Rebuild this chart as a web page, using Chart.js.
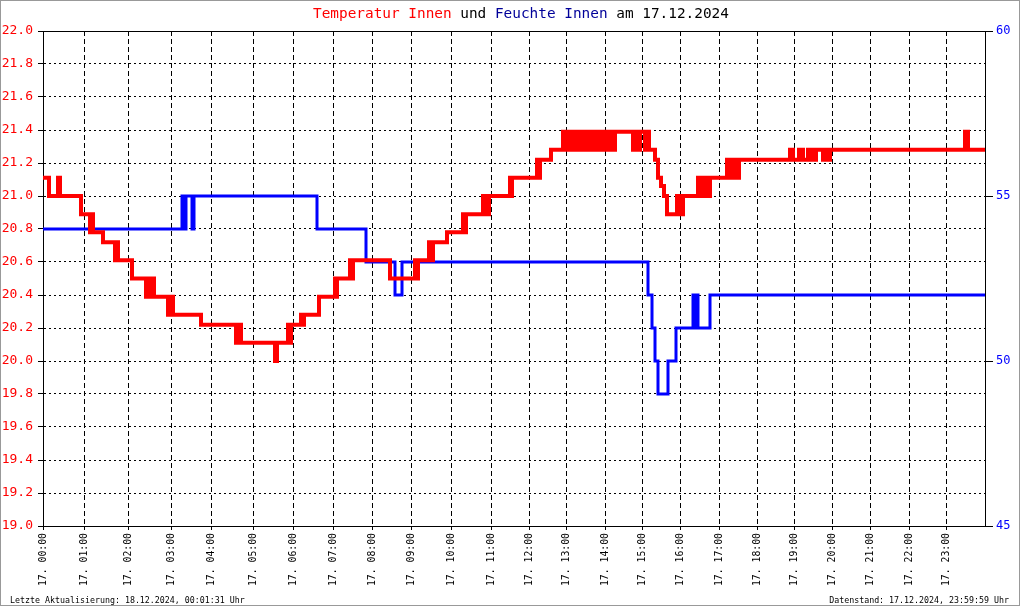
<!DOCTYPE html>
<html>
<head>
<meta charset="utf-8">
<script src="https://cdn.jsdelivr.net/npm/chart.js@4/dist/chart.umd.min.js"></script>
<style>
html, body { margin: 0; padding: 0; background: #fff; }
#wrap { position: relative; width: 1020px; height: 606px; }
#frame { position: absolute; left: 0; top: 0; width: 1020px; height: 606px; box-sizing: border-box; border: 1px solid #999; pointer-events: none; }
.t { position: absolute; font-family: "DejaVu Sans Mono", monospace; white-space: pre; color: #000; }
#title { left: 313px; top: 6px; font-size: 14.4px; line-height: 14.4px; }
.foot { top: 596px; font-size: 8.3px; line-height: 8.3px; }
</style>
</head>
<body>
<div id="wrap">
  <canvas id="myChart" width="1020" height="606" style="width:1020px;height:606px"></canvas>
  <div id="title" class="t"><span style="color:#ff0000">Temperatur Innen</span> und <span style="color:#000099">Feuchte Innen</span> am 17.12.2024</div>
  <div class="t foot" style="left:10px">Letzte Aktualisierung: 18.12.2024, 00:01:31 Uhr</div>
  <div class="t foot" style="right:11px">Datenstand: 17.12.2024, 23:59:59 Uhr</div>
  <div id="frame"></div>
</div>
<script>
// x axis = record number of the day, hours start at these records
var lastIdx = 942;
var hourIdx = [0, 41, 85, 128, 168, 210, 250, 290, 329, 368, 408, 448, 486, 523,
               562, 599, 637, 676, 714, 751, 789, 827, 866, 903];
var hourLabels = ["17. 00:00", "17. 01:00", "17. 02:00", "17. 03:00", "17. 04:00", "17. 05:00",
                  "17. 06:00", "17. 07:00", "17. 08:00", "17. 09:00", "17. 10:00", "17. 11:00",
                  "17. 12:00", "17. 13:00", "17. 14:00", "17. 15:00", "17. 16:00", "17. 17:00",
                  "17. 18:00", "17. 19:00", "17. 20:00", "17. 21:00", "17. 22:00", "17. 23:00"];

// [record, value] where the value changes
var tempSteps = [
  [0,21.11],[6,21.0],[15,21.11],[17,21.0],[38,20.89],[47,20.78],[48,20.89],[50,20.78],
  [60,20.72],[72,20.61],[73,20.72],[75,20.61],[89,20.5],[103,20.39],[105,20.5],[107,20.39],
  [109,20.5],[111,20.39],[125,20.28],[127,20.39],[130,20.28],[158,20.22],[193,20.11],
  [196,20.22],[198,20.11],[232,20.0],[234,20.11],[245,20.22],[246,20.11],[248,20.22],
  [258,20.28],[259,20.22],[261,20.28],[276,20.39],[292,20.5],[293,20.39],[294,20.5],
  [307,20.61],[308,20.5],[310,20.61],[347,20.5],[372,20.61],[373,20.5],[375,20.61],
  [386,20.72],[388,20.61],[390,20.72],[404,20.78],[420,20.89],[421,20.78],[423,20.89],
  [440,21.0],[441,20.89],[442,21.0],[443,20.89],[444,21.0],[445,20.89],[446,21.0],
  [467,21.11],[468,21.0],[469,21.11],[494,21.22],[495,21.11],[497,21.22],[508,21.28],
  [520,21.39],[522,21.28],[524,21.39],[526,21.28],[528,21.39],[530,21.28],[532,21.39],
  [534,21.28],[536,21.39],[538,21.28],[540,21.39],[542,21.28],[544,21.39],[546,21.28],
  [548,21.39],[550,21.28],[552,21.39],[554,21.28],[556,21.39],[558,21.28],[560,21.39],
  [562,21.28],[564,21.39],[566,21.28],[568,21.39],[570,21.28],[572,21.39],
  [590,21.28],[592,21.39],[595,21.28],[597,21.39],[602,21.28],[604,21.39],[606,21.28],
  [612,21.22],[615,21.11],[618,21.06],[621,21.0],[624,20.89],[634,21.0],[636,20.89],
  [640,21.0],[655,21.11],[657,21.0],[659,21.11],[661,21.0],[663,21.11],[665,21.0],
  [667,21.11],[684,21.22],[686,21.11],[688,21.22],[690,21.11],[692,21.22],[694,21.11],
  [696,21.22],[747,21.28],[750,21.22],[756,21.28],[760,21.22],[765,21.28],[767,21.22],
  [769,21.28],[771,21.22],[773,21.28],[780,21.22],[782,21.28],[785,21.22],[787,21.28],
  [922,21.39],[925,21.28],[942,21.28]
];

var humSteps = [
  [0,54],[139,55],[140,54],[141,55],[142,54],[143,55],[149,54],[151,55],[274,54],
  [323,53],[352,52],[359,53],[605,52],[609,51],[612,50],[615,49],[625,50],[633,51],
  [650,52],[651,51],[652,52],[653,51],[654,52],[655,51],[667,52],[942,52]
];

var monoFont = "'DejaVu Sans Mono', monospace";

// solid line on top of the plot area
var topLine = {
  id: 'topLine',
  afterDraw: function(chart) {
    var a = chart.chartArea, c = chart.ctx;
    c.save();
    c.strokeStyle = '#000';
    c.lineWidth = 1;
    c.beginPath();
    c.moveTo(a.left, Math.floor(a.top) + 0.5);
    c.lineTo(a.right, Math.floor(a.top) + 0.5);
    c.stroke();
    c.restore();
  }
};

var ctx = document.getElementById("myChart").getContext('2d');
var myChart = new Chart(ctx, {
  type: 'line',
  data: {
    datasets: [{
      label: 'Temperatur Innen',
      data: tempSteps.map(function(p) { return {x: p[0], y: p[1]}; }),
      yAxisID: 'y',
      borderColor: '#ff0000',
      borderWidth: 4,
      stepped: 'before',
      pointRadius: 0,
      fill: false
    }, {
      label: 'Feuchte Innen',
      data: humSteps.map(function(p) { return {x: p[0], y: p[1]}; }),
      yAxisID: 'y1',
      borderColor: '#0000ff',
      borderWidth: 3,
      stepped: 'before',
      pointRadius: 0,
      fill: false
    }]
  },
  options: {
    responsive: false,
    animation: false,
    layout: { padding: { top: 31, left: 0, right: 0, bottom: 0 } },
    plugins: { legend: { display: false }, tooltip: { enabled: false }, title: { display: false } },
    scales: {
      x: {
        type: 'linear',
        min: 0,
        max: lastIdx,
        afterBuildTicks: function(s) { s.ticks = hourIdx.map(function(v) { return {value: v}; }); },
        afterFit: function(s) { s.height = 80; },
        ticks: {
          autoSkip: false, maxRotation: 90, minRotation: 90, padding: 3, color: '#000',
          font: { family: monoFont, size: 9.8 },
          callback: function(v, i) { return hourLabels[i]; }
        },
        grid: { color: '#000', tickLength: 4, tickColor: '#000' },
        border: { color: '#000', dash: [5, 3] }
      },
      y: {
        position: 'left',
        min: 19,
        max: 22,
        afterFit: function(s) { s.width = 43; },
        ticks: {
          stepSize: 0.2, padding: 5, color: '#ff0000',
          font: { family: monoFont, size: 13 },
          callback: function(v) { return v.toFixed(1); }
        },
        grid: { color: '#000', tickLength: 5, tickColor: '#000' },
        border: { color: '#000', dash: [2, 3] }
      },
      y1: {
        position: 'right',
        min: 45,
        max: 60,
        afterFit: function(s) { s.width = 35; },
        ticks: {
          stepSize: 5, padding: 3, color: '#0000ff',
          font: { family: monoFont, size: 12 }
        },
        grid: { drawOnChartArea: false, color: '#000', tickLength: 8, tickColor: '#000' },
        border: { color: '#000' }
      }
    }
  },
  plugins: [topLine]
});
</script>
</body>
</html>
